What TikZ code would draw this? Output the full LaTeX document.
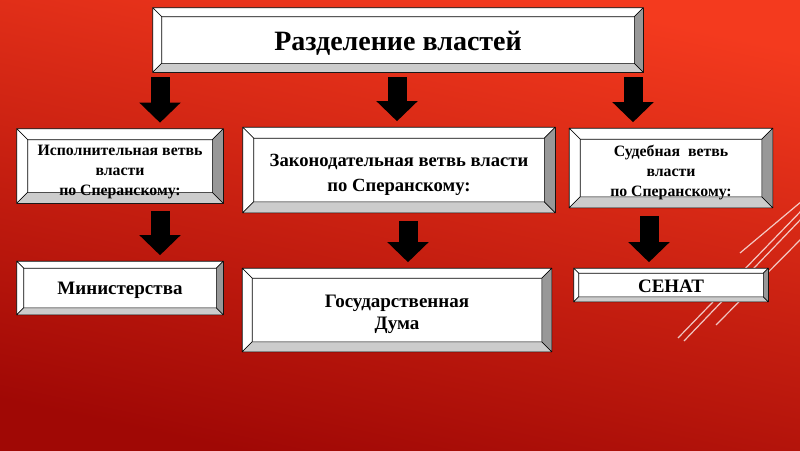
\documentclass[tikz,border=0pt]{standalone}
\usepackage{fontspec}
\setmainfont{Liberation Serif}
\usetikzlibrary{arrows.meta}
\definecolor{bgtop}{RGB}{244,58,30}
\definecolor{bgmid}{RGB}{234,48,24}
\definecolor{bgbot}{RGB}{160,8,5}
\definecolor{bevlight}{RGB}{204,204,204}
\definecolor{bevdark}{RGB}{152,152,152}
\newcommand{\bevel}[2]{%
  \coordinate (#1-nw) at ([shift={(#2,#2)}]#1.north west);
  \coordinate (#1-ne) at ([shift={(-#2,#2)}]#1.north east);
  \coordinate (#1-sw) at ([shift={(#2,-#2)}]#1.south west);
  \coordinate (#1-se) at ([shift={(-#2,-#2)}]#1.south east);
  \draw[bevline,fill=white] (#1.north west)--(#1.north east)--(#1-ne)--(#1-nw)--cycle;
  \draw[bevline,fill=white] (#1.north west)--(#1-nw)--(#1-sw)--(#1.south west)--cycle;
  \draw[bevline,fill=bevlight] (#1.south west)--(#1-sw)--(#1-se)--(#1.south east)--cycle;
  \draw[bevline,fill=bevdark] (#1.north east)--(#1.south east)--(#1-se)--(#1-ne)--cycle;
}
\begin{document}
\begin{tikzpicture}[x=1pt,y=-1pt,line join=round]
\tikzset{box/.style={draw,fill=white,line width=0.6pt,inner sep=0pt},
  txt/.style={align=center,inner sep=0pt},
  bevline/.style={draw=black,line width=0.6pt},
  blk/.style={line width=19pt,line cap=butt,-{Triangle[width=40pt,length=20pt]}},
  deco/.style={white,line width=1.2pt,opacity=0.75},
  small/.style={font=\fontsize{15.8}{20}\selectfont\bfseries},
  mid/.style={font=\fontsize{18.6}{25}\selectfont\bfseries},
  big/.style={font=\fontsize{19}{22}\selectfont\bfseries}}
\shade[top color=bgtop,middle color=bgmid,bottom color=bgbot,shading angle=-12] (0,0) rectangle (800,450);
\useasboundingbox (0,0) rectangle (800,450);
\draw[deco] (740,253)--(802,201);
\draw[deco] (678,338)--(802,210);
\draw[deco] (684,341)--(802,218);
\draw[deco] (716,325)--(802,238);
\node[box,minimum width=490pt,minimum height=64pt] (title) at (398,40) {};
\node[box,minimum width=206pt,minimum height=74pt] (exec) at (120,166) {};
\node[box,minimum width=312pt,minimum height=85pt] (leg) at (399,170) {};
\node[box,minimum width=203pt,minimum height=79pt] (jud) at (671,168) {};
\node[box,minimum width=206pt,minimum height=53pt] (min) at (120,288) {};
\node[box,minimum width=309pt,minimum height=83pt] (duma) at (397,310) {};
\node[box,minimum width=194pt,minimum height=33pt] (senat) at (671,285) {};
\foreach \n/\d in {title/9,exec/11,leg/11,jud/11,min/7,duma/10,senat/5}
  \bevel{\n}{\d};
\node[txt,font=\fontsize{28}{32}\selectfont\bfseries] (title-t) at ([yshift=-3pt]title) {Разделение властей};
\node[txt,small] (exec-t) at ([yshift=-6pt]exec) {Исполнительная ветвь\\власти\\по Сперанскому:};
\node[txt,mid] (leg-t) at ([yshift=-5pt]leg) {Законодательная ветвь власти\\по Сперанскому:};
\node[txt,small] (jud-t) at ([yshift=-5pt]jud) {Судебная~ ветвь\\власти\\по Сперанскому:};
\node[txt,big] (min-t) at ([yshift=-2pt]min) {Министерства};
\node[txt,big] (duma-t) at ([yshift=-4pt]duma) {Государственная\\Дума};
\node[txt,big] (senat-t) at ([yshift=-1pt]senat) {СЕНАТ};
\foreach \x/\a/\b in {160/title/exec,397/title/leg,633/title/jud}
  \draw[blk,shorten <=5pt,shorten >=6pt] (\x,0 |- \a.south) -- (\x,0 |- \b.north);
\foreach \x/\a/\b in {160/exec/min,408/leg/duma,649/jud/senat}
  \draw[blk,shorten <=8pt,shorten >=6pt] (\x,0 |- \a.south) -- (\x,0 |- \b.north);
\end{tikzpicture}
\end{document}
